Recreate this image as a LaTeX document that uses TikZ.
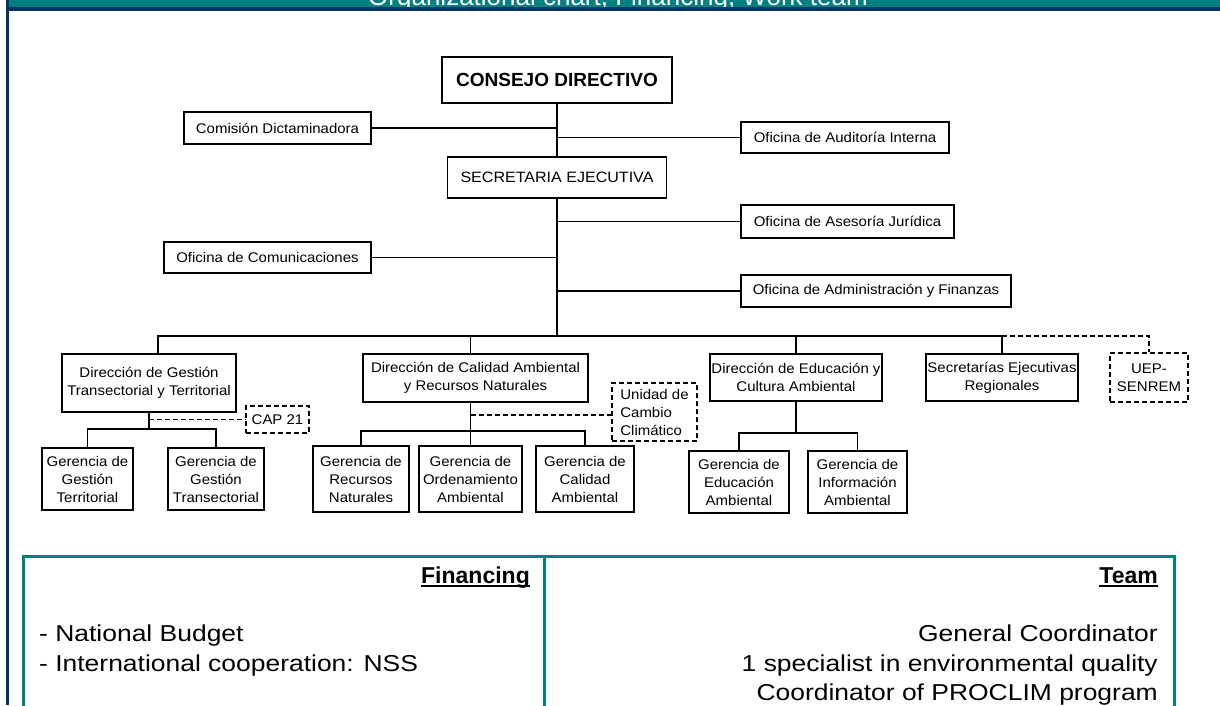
\documentclass[tikz,border=0pt]{standalone}
\usepackage{fontspec}
\setmainfont{Liberation Sans}
\newfontfamily\orgf[FakeStretch=1.07]{Liberation Sans}
\newfontfamily\tabf[FakeStretch=1.15]{Liberation Sans}
\definecolor{hdteal}{RGB}{0,128,128}
\definecolor{hdnavy}{RGB}{0,51,102}
\tikzset{
  box/.style={draw=black, line width=1.2pt, inner sep=0pt, align=center, text=black,
    font=\orgf\fontsize{14}{18}\selectfont},
  dbox/.style={box, dash pattern=on 5pt off 3pt},
  conn/.style={draw=black, line width=1.2pt},
  dconn/.style={draw=black, line width=1.2pt, dash pattern=on 5pt off 3pt},
  tabtext/.style={inner sep=0pt, text=black, font=\tabf\fontsize{23}{28}\selectfont},
  tabhead/.style={inner sep=0pt, text=black, font=\bfseries\fontsize{23}{28}\selectfont},
  tabline/.style={draw=hdteal, line width=3pt},
}
\begin{document}
\begin{tikzpicture}[x=1pt, y=-1pt]
\useasboundingbox (0,0) rectangle (1220,705);
\clip (0,0) rectangle (1220,705);
\fill[white] (0,0) rectangle (1220,705);

% header band
\fill[hdteal] (8.7,0) rectangle (1220,7.3);
\node[anchor=base, inner sep=0pt, text=white, font=\fontsize{26}{30}\selectfont] (title) at (618,5.5)
  {Organizational chart, Financing, Work team};
\fill[hdnavy] (6,7.3) rectangle (1220,10.7);
\fill[hdnavy] (6,0) rectangle (8.7,705);

% ---------- org chart nodes ----------
\node[box, minimum width=230pt, minimum height=46pt, font=\bfseries\fontsize{19}{22}\selectfont] (cd) at (557,80) {CONSEJO DIRECTIVO};
\node[box, minimum width=219pt, minimum height=41pt, font=\orgf\fontsize{15}{18}\selectfont] (se) at (557,177.5) {SECRETARIA EJECUTIVA};
\node[box, minimum width=187pt, minimum height=32pt] (com) at (277.5,128) {Comisión Dictaminadora};
\node[box, minimum width=208pt, minimum height=31pt] (aud) at (845,137.5) {Oficina de Auditoría Interna};
\node[box, minimum width=213pt, minimum height=33pt] (ase) at (847.5,221.5) {Oficina de Asesoría Jurídica};
\node[box, minimum width=207pt, minimum height=31pt] (cmu) at (267.5,257.5) {Oficina de Comunicaciones};
\node[box, minimum width=270pt, minimum height=32pt] (adm) at (876,291) {Oficina de Administración y Finanzas};

\node[box, minimum width=174pt, minimum height=58pt] (dg) at (149,383) {Dirección de Gestión\\Transectorial y Territorial};
\node[dbox, minimum width=63pt, minimum height=27pt] (cap) at (277.5,419.5) {CAP 21};
\node[box, minimum width=91pt, minimum height=62pt] (gt) at (87.5,479) {Gerencia de\\Gestión\\Territorial};
\node[box, minimum width=96pt, minimum height=62pt] (gtr) at (216,479) {Gerencia de\\Gestión\\Transectorial};

\node[box, minimum width=225pt, minimum height=48pt] (dc) at (475.5,378) {Dirección de Calidad Ambiental\\y Recursos Naturales};
\node[dbox, minimum width=85pt, minimum height=58pt, align=left] (ucc) at (654.5,412) {Unidad de\\Cambio\\Climático};
\node[box, minimum width=96pt, minimum height=66pt] (grn) at (361,479) {Gerencia de\\Recursos\\Naturales};
\node[box, minimum width=103pt, minimum height=66pt] (goa) at (470.5,479) {Gerencia de\\Ordenamiento\\Ambiental};
\node[box, minimum width=98pt, minimum height=66pt] (gca) at (585,479) {Gerencia de\\Calidad\\Ambiental};

\node[box, minimum width=172pt, minimum height=47pt] (de) at (796,377.5) {Dirección de Educación y\\Cultura Ambiental};
\node[box, minimum width=100pt, minimum height=62pt] (gea) at (739,482) {Gerencia de\\Educación\\Ambiental};
\node[box, minimum width=99pt, minimum height=62pt] (gia) at (857.5,482) {Gerencia de\\Información\\Ambiental};

\node[box, minimum width=152pt, minimum height=47pt] (ser) at (1002,377.5) {Secretarías Ejecutivas\\Regionales};
\node[dbox, minimum width=78pt, minimum height=49pt] (uep) at (1149,377.5) {UEP-\\SENREM};

% ---------- connectors ----------
\coordinate (busL) at (158,336);
\coordinate (busR) at (1002,336);
\coordinate (sb1) at (150,429);
\coordinate (sb2) at (470.5,431);
\coordinate (sb3) at (796,433);
\coordinate (u1) at (470.5,415);

\draw[conn] (cd.south) -- (se.north);
\draw[conn] (se.south) -- (se.south |- busL);
\draw[conn] (com.east) -- (com.east -| cd.south);
\draw[conn] (aud.west) -- (aud.west -| cd.south);
\draw[conn] (ase.west) -- (ase.west -| se.south);
\draw[conn] (cmu.east) -- (cmu.east -| se.south);
\draw[conn] (adm.west) -- (adm.west -| se.south);

\draw[conn] (busL |- dg.north) -- (busL) -- (busR) -- (ser.north);
\draw[conn] (goa.north |- busL) -- (goa.north |- dc.north);
\draw[conn] (de.north |- busL) -- (de.north);
\draw[dconn] (busR) -- (busR -| uep.north) -- (uep.north);

\draw[conn] (dg.south) -- (dg.south |- sb1);
\draw[conn] (gt.north) -- (gt.north |- sb1) -- (gtr.north |- sb1) -- (gtr.north);
\draw[dconn] (dg.south |- cap.west) -- (cap.west);

\draw[conn] (goa.north |- dc.south) -- (goa.north);
\draw[conn] (grn.north) -- (grn.north |- sb2) -- (gca.north |- sb2) -- (gca.north);
\draw[dconn] (u1) -- (u1 -| ucc.west);

\draw[conn] (de.south) -- (de.south |- sb3);
\draw[conn] (gea.north) -- (gea.north |- sb3) -- (gia.north |- sb3) -- (gia.north);

% ---------- bottom table ----------
\draw[tabline] (23,720) -- (23,556) -- (1174,556) -- (1174,720);
\draw[tabline] (544.5,556) -- (544.5,720);

\node[tabhead, anchor=base east] (fin) at (530,583.3) {Financing};
\draw[line width=1.8pt] ([yshift=-3pt]fin.base west) -- ([yshift=-3pt]fin.base east);
\node[tabhead, anchor=base east] (team) at (1158,583.3) {Team};
\draw[line width=1.8pt] ([yshift=-3pt]team.base west) -- ([yshift=-3pt]team.base east);

\node[tabtext, anchor=base west] (f1) at (39,641.7) {- National Budget};
\node[tabtext, anchor=base west] (f2) at (39,671) {- International cooperation: NSS};
\node[tabtext, anchor=base east] (t1) at (1158,641.7) {General Coordinator};
\node[tabtext, anchor=base east] (t2) at (1158,671) {1 specialist in environmental quality};
\node[tabtext, anchor=base east] (t3) at (1158,700) {Coordinator of PROCLIM program};
\end{tikzpicture}
\end{document}
